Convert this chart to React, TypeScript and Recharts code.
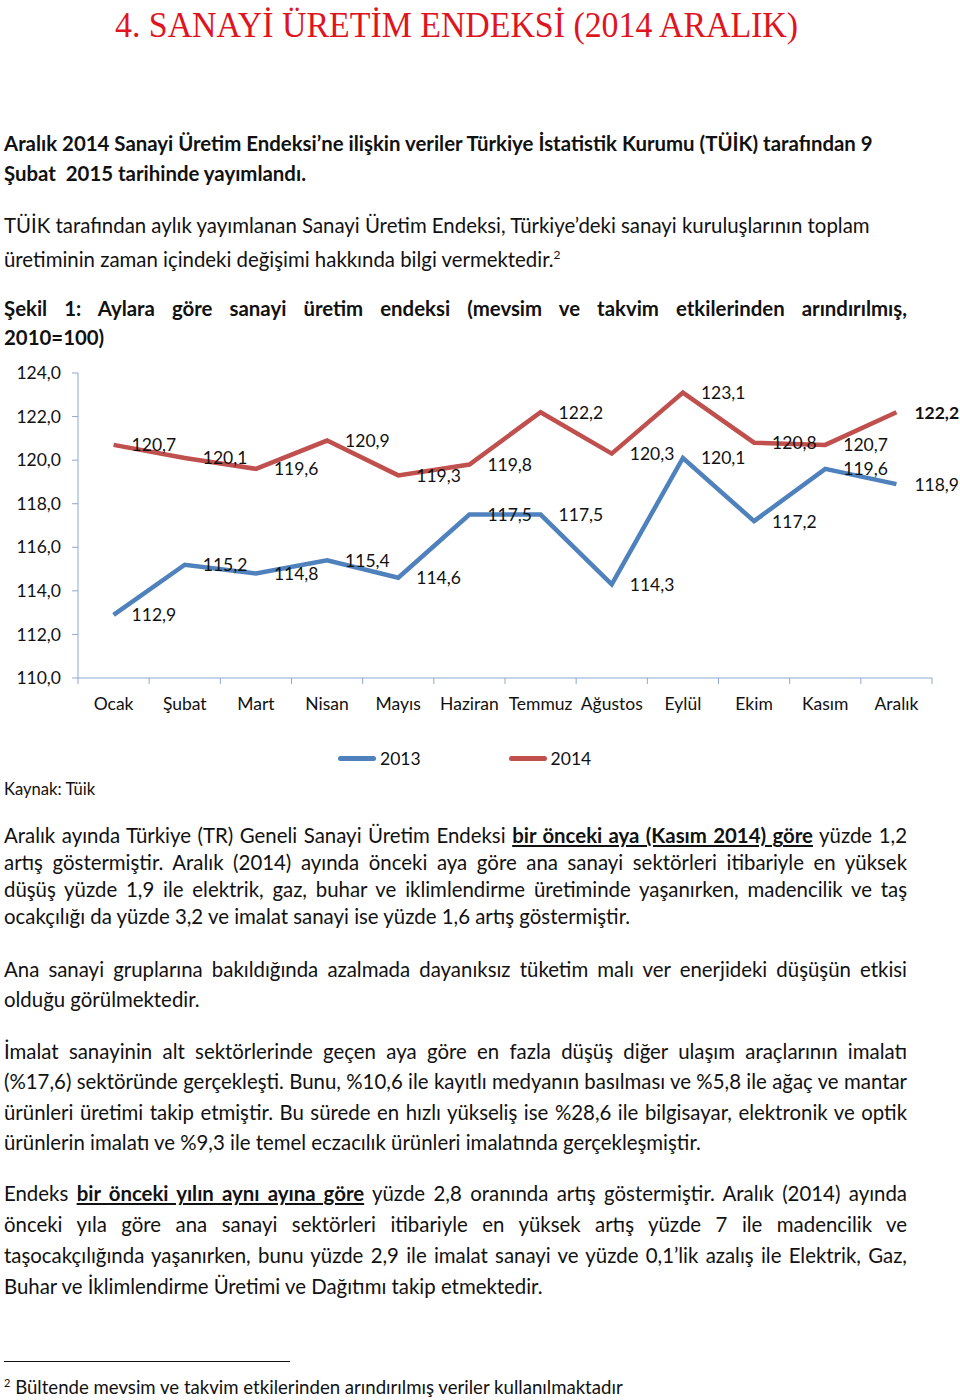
import React from 'react';
import { LineChart, Line, XAxis, YAxis, Legend, LabelList } from 'recharts';

const months = ['Ocak', 'Şubat', 'Mart', 'Nisan', 'Mayıs', 'Haziran', 'Temmuz', 'Ağustos', 'Eylül', 'Ekim', 'Kasım', 'Aralık'];
const values2013 = [112.9, 115.2, 114.8, 115.4, 114.6, 117.5, 117.5, 114.3, 120.1, 117.2, 119.6, 118.9];
const values2014 = [120.7, 120.1, 119.6, 120.9, 119.3, 119.8, 122.2, 120.3, 123.1, 120.8, 120.7, 122.2];
const yTicks = [110, 112, 114, 116, 118, 120, 122, 124];

const BLUE = '#4f81bd';
const RED = '#c0504d';
const AXIS = '#8ea9cf';
const FONT = 'Lato, "Open Sans", sans-serif';

const data = months.map((m, i) => ({ month: m, y2013: values2013[i], y2014: values2014[i] }));

const fmt = (v: number) => v.toFixed(1).replace('.', ',');

// x tick: label under the band center, tick marks on band edges (Excel style)
const MonthTick = (props: any) => {
    const { x, y, payload, index, width, visibleTicksCount } = props;
    const band = width / (visibleTicksCount || months.length);
    return (
        <g>
            <line x1={x - band / 2} y1={y} x2={x - band / 2} y2={y + 6} stroke={AXIS} />
            {index === months.length - 1 && (
                <line x1={x + band / 2} y1={y} x2={x + band / 2} y2={y + 6} stroke={AXIS} />
            )}
            <text x={x} y={y + 32} textAnchor="middle" fontSize={17.5} fontFamily={FONT} fill="#111">
                {payload.value}
            </text>
        </g>
    );
};

const makeLabel = (boldLast: boolean) => (props: any) => {
    const { x, y, value, index } = props;
    return (
        <text
            x={x + 18}
            y={y}
            dominantBaseline="central"
            fontSize={17.5}
            fontFamily={FONT}
            fontWeight={boldLast && index === months.length - 1 ? 700 : 400}
            fill="#111"
        >
            {fmt(value)}
        </text>
    );
};

const LegendContent = () => (
    <div style={{ display: 'flex', alignItems: 'center', fontFamily: FONT, fontSize: 17.5, color: '#111' }}>
        {[{ name: '2013', c: BLUE }, { name: '2014', c: RED }].map((it, i) => (
            <div key={it.name} style={{ display: 'flex', alignItems: 'center', marginRight: i === 0 ? 88 : 0 }}>
                <span style={{ display: 'inline-block', width: 38, height: 5, borderRadius: 3, background: it.c, marginRight: 4 }} />
                <span>{it.name}</span>
            </div>
        ))}
    </div>
);

const TextLine = ({ y, children, justify = false, bold = false, size = 20.4, lh = 26 }: any) => (
    <div
        style={{
            position: 'absolute',
            left: 4,
            top: y - lh / 2,
            width: 903,
            height: lh,
            lineHeight: `${lh}px`,
            whiteSpace: 'nowrap',
            fontSize: size,
            fontWeight: bold ? 700 : 400,
            textAlign: 'left',
            textAlignLast: justify ? 'justify' : 'left',
        }}
    >
        {children}
    </div>
);

const BU = ({ children }: any) => <b style={{ textDecoration: 'underline' }}>{children}</b>;

export default function App() {
    return (
        <div style={{ position: 'absolute', left: 0, top: 0, width: 960, height: 1400, background: '#fff', fontFamily: FONT, color: '#111', overflow: 'hidden' }}>
            <div
                style={{
                    position: 'absolute',
                    left: 115,
                    top: 0,
                    fontFamily: '"Liberation Serif", serif',
                    fontSize: 36,
                    lineHeight: '50px',
                    color: '#e0141e',
                    whiteSpace: 'nowrap',
                    transform: 'scaleX(0.94)',
                    transformOrigin: 'left top',
                }}
            >
                4. SANAYİ ÜRETİM ENDEKSİ (2014 ARALIK)
            </div>

            <TextLine y={143} bold>Aralık 2014 Sanayi Üretim Endeksi’ne ilişkin veriler Türkiye İstatistik Kurumu (TÜİK) tarafından 9</TextLine>
            <TextLine y={173} bold>Şubat&nbsp; 2015 tarihinde yayımlandı.</TextLine>

            <TextLine y={225}>TÜİK tarafından aylık yayımlanan Sanayi Üretim Endeksi, Türkiye’deki sanayi kuruluşlarının toplam</TextLine>
            <TextLine y={255}>üretiminin zaman içindeki değişimi hakkında bilgi vermektedir.<sup style={{ fontSize: 12 }}>2</sup></TextLine>

            <TextLine y={308} bold justify>Şekil 1: Aylara göre sanayi üretim endeksi (mevsim ve takvim etkilerinden arındırılmış,</TextLine>
            <TextLine y={337} bold>2010=100)</TextLine>

            <div style={{ position: 'absolute', left: 0, top: 340 }}>
                <LineChart width={960} height={440} data={data} margin={{ top: 33, right: 28, left: 18, bottom: 62 }}>
                    <XAxis
                        dataKey="month"
                        scale="band"
                        height={40}
                        stroke={AXIS}
                        tickLine={false}
                        tickSize={0}
                        tickMargin={0}
                        interval={0}
                        tick={<MonthTick />}
                    />
                    <YAxis
                        width={60}
                        domain={[110, 124]}
                        ticks={yTicks}
                        stroke={AXIS}
                        tickSize={6}
                        tickMargin={11}
                        tickFormatter={fmt}
                        tick={{ fill: '#111', fontSize: 17.5, fontFamily: FONT }}
                    />
                    <Legend
                        verticalAlign="middle"
                        align="center"
                        layout="horizontal"
                        content={<LegendContent />}
                        wrapperStyle={{ top: 408, left: 338, width: 400, height: 22 }}
                    />
                    <Line dataKey="y2013" name="2013" type="linear" stroke={BLUE} strokeWidth={4.5} dot={false} isAnimationActive={false}>
                        <LabelList dataKey="y2013" content={makeLabel(false)} />
                    </Line>
                    <Line dataKey="y2014" name="2014" type="linear" stroke={RED} strokeWidth={4.5} dot={false} isAnimationActive={false}>
                        <LabelList dataKey="y2014" content={makeLabel(true)} />
                    </Line>
                </LineChart>
            </div>

            <div style={{ position: 'absolute', left: 4, top: 779, fontSize: 16.6, lineHeight: '20px' }}>Kaynak: Tüik</div>

            <TextLine y={835} justify>Aralık ayında Türkiye (TR) Geneli Sanayi Üretim Endeksi <BU>bir önceki aya (Kasım 2014) göre</BU> yüzde 1,2</TextLine>
            <TextLine y={862} justify>artış göstermiştir. Aralık (2014) ayında önceki aya göre ana sanayi sektörleri itibariyle en yüksek</TextLine>
            <TextLine y={889} justify>düşüş yüzde 1,9 ile elektrik, gaz, buhar ve iklimlendirme üretiminde yaşanırken, madencilik ve taş</TextLine>
            <TextLine y={916}>ocakçılığı da yüzde 3,2 ve imalat sanayi ise yüzde 1,6 artış göstermiştir.</TextLine>

            <TextLine y={969} justify>Ana sanayi gruplarına bakıldığında azalmada dayanıksız tüketim malı ver enerjideki düşüşün etkisi</TextLine>
            <TextLine y={999}>olduğu görülmektedir.</TextLine>

            <TextLine y={1051} justify>İmalat sanayinin alt sektörlerinde geçen aya göre en fazla düşüş diğer ulaşım araçlarının imalatı</TextLine>
            <TextLine y={1081} justify>(%17,6) sektöründe gerçekleşti. Bunu, %10,6 ile kayıtlı medyanın basılması ve %5,8 ile ağaç ve mantar</TextLine>
            <TextLine y={1112} justify>ürünleri üretimi takip etmiştir. Bu sürede en hızlı yükseliş ise %28,6 ile bilgisayar, elektronik ve optik</TextLine>
            <TextLine y={1142}>ürünlerin imalatı ve %9,3 ile temel eczacılık ürünleri imalatında gerçekleşmiştir.</TextLine>

            <TextLine y={1193} justify>Endeks <BU>bir önceki yılın aynı ayına göre</BU> yüzde 2,8 oranında artış göstermiştir. Aralık (2014) ayında</TextLine>
            <TextLine y={1224} justify>önceki yıla göre ana sanayi sektörleri itibariyle en yüksek artış yüzde 7 ile madencilik ve</TextLine>
            <TextLine y={1255} justify>taşocakçılığında yaşanırken, bunu yüzde 2,9 ile imalat sanayi ve yüzde 0,1’lik azalış ile Elektrik, Gaz,</TextLine>
            <TextLine y={1286}>Buhar ve İklimlendirme Üretimi ve Dağıtımı takip etmektedir.</TextLine>

            <div style={{ position: 'absolute', left: 4, top: 1361, width: 286, height: 0, borderTop: '1.5px solid #111' }} />
            <div style={{ position: 'absolute', left: 4, top: 1372, fontSize: 18.6, lineHeight: '22px', whiteSpace: 'nowrap' }}>
                <sup style={{ fontSize: 11 }}>2</sup> Bültende mevsim ve takvim etkilerinden arındırılmış veriler kullanılmaktadır
            </div>
        </div>
    );
}
